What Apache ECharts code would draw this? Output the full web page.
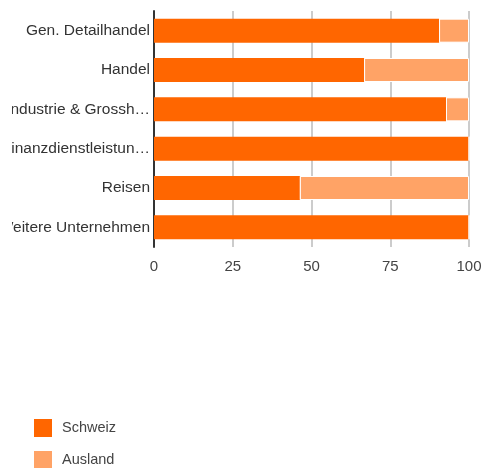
<!DOCTYPE html>
<html>
<head>
<meta charset="utf-8">
<script src="https://cdn.jsdelivr.net/npm/echarts@6/dist/echarts.min.js"></script>
<style>
html, body { margin: 0; padding: 0; background: #fff; }
#chart { width: 483px; height: 468px; }
</style>
</head>
<body>
<div id="chart"></div>
<script>
// Daten
var categories = ['Gen. Detailhandel', 'Handel', 'Industrie & Grosshandel', 'Finanzdienstleistungen', 'Reisen', 'Weitere Unternehmen'];
var schweiz = [90.5, 66.7, 92.7, 100, 46.3, 100];
var ausland = [9.5, 33.3, 7.3, 0, 53.7, 0];
var xTicks = [0, 25, 50, 75, 100];

var chart = echarts.init(document.getElementById('chart'));

var font = '"Liberation Sans", Arial, Helvetica, sans-serif';

// letzte Kategorie passt ganz rein (wird nur am Rand abgeschnitten)
var yData = categories.map(function (c, i) {
    if (i === categories.length - 1) {
        return { value: c, textStyle: { width: 170 } };
    }
    return c;
});

var option = {
    animation: false,
    textStyle: { fontFamily: font },
    grid: { left: 154, right: 14, top: 11, height: 236, containLabel: false, outerBoundsMode: 'none' },
    // Beschriftungsbereich links abgeschnitten wie im Original
    graphic: [{
        type: 'rect',
        left: 0,
        top: 0,
        z: 100,
        shape: { width: 12, height: 250 },
        style: { fill: '#fff' }
    }],
    legend: {
        orient: 'vertical',
        left: 34,
        top: 419,
        height: 60,
        padding: 0,
        itemWidth: 18,
        itemHeight: 18,
        itemGap: 14,
        icon: 'rect',
        itemStyle: { borderWidth: 0 },
        data: ['Schweiz', 'Ausland'],
        textStyle: { color: '#444', fontSize: 14.5, fontFamily: font, padding: [0, 0, 0, 5] }
    },
    xAxis: {
        type: 'value',
        min: xTicks[0],
        max: xTicks[xTicks.length - 1],
        interval: 25,
        axisLine: { show: false },
        axisTick: { show: false },
        splitLine: { lineStyle: { color: '#ccc', width: 2 } },
        axisLabel: { color: '#444', fontSize: 15, margin: 12, fontFamily: font }
    },
    yAxis: {
        type: 'category',
        inverse: true,
        data: yData,
        axisLine: { show: true, lineStyle: { color: '#333', width: 2 } },
        axisTick: { show: false },
        axisLabel: {
            color: '#333',
            fontSize: 15.5,
            margin: 4,
            fontFamily: font,
            width: 151.5,
            overflow: 'truncate',
            ellipsis: '…'
        }
    },
    series: [
        {
            name: 'Schweiz',
            type: 'bar',
            stack: 'total',
            barWidth: 24,
            data: schweiz,
            itemStyle: { color: '#ff6600' }
        },
        {
            name: 'Ausland',
            type: 'bar',
            stack: 'total',
            barWidth: 24,
            data: ausland,
            itemStyle: { color: '#ffa366', borderColor: '#fff', borderWidth: 1 }
        }
    ]
};

chart.setOption(option);
</script>
</body>
</html>
